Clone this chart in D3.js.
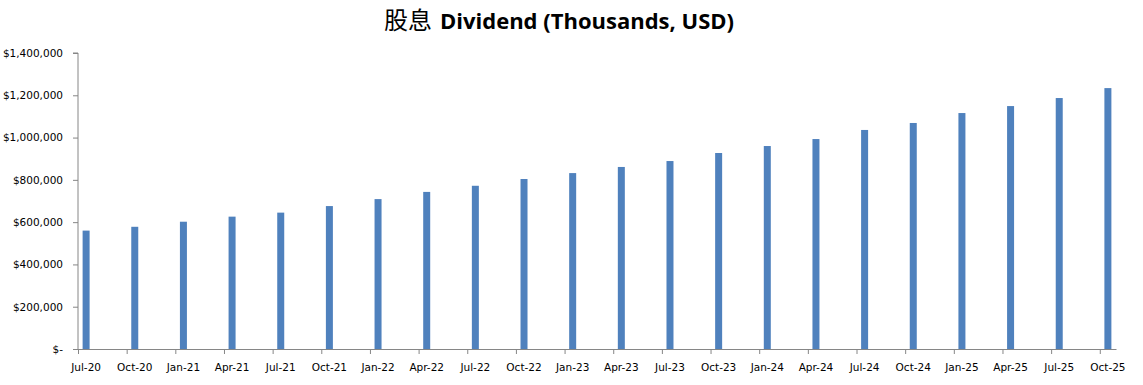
<!DOCTYPE html>
<html lang="zh">
<head>
    <meta charset="UTF-8">
    <title>Dividend</title>
    <script src="https://d3js.org/d3.v7.min.js"></script>
    <style>
        body { margin: 0; background: #fff; }
        .axis text { font-family: "DejaVu Sans", sans-serif; font-size: 10.5px; fill: #000; }
        .axis path, .axis line { stroke: #868686; }
    </style>
</head>
<body>
<svg height="385" width="1143"></svg>

<script>
    // quarterly dividend, thousands of USD
    const categories = ["Jul-20", "Oct-20", "Jan-21", "Apr-21", "Jul-21", "Oct-21", "Jan-22", "Apr-22",
        "Jul-22", "Oct-22", "Jan-23", "Apr-23", "Jul-23", "Oct-23", "Jan-24", "Apr-24",
        "Jul-24", "Oct-24", "Jan-25", "Apr-25", "Jul-25", "Oct-25"];
    const dividend = [560000, 578000, 602000, 626000, 645000, 676000, 709000, 743000,
        772000, 804000, 832000, 861000, 889000, 927000, 960000, 993000,
        1036000, 1069000, 1116000, 1149000, 1187000, 1234000];
    const yTicks = [0, 200000, 400000, 600000, 800000, 1000000, 1200000, 1400000];

    const svg = d3.select("svg");
    const margin = {left: 78, right: 27, top: 53, bottom: 36};
    const width = 1143, height = 385;

    const parse = d3.utcParse("%b-%y");
    const dates = categories.map(parse);
    const start = dates[0];
    const monthIdx = d => d3.utcMonth.count(start, d);
    const nMonths = monthIdx(dates[dates.length - 1]) + 1;

    // date axis with one slot per month
    const x = d3.scaleLinear().domain([0, nMonths]).range([margin.left, width - margin.right]);
    const y = d3.scaleLinear().domain([0, 1400000]).range([height - margin.bottom, margin.top]);

    const barW = 7;

    svg.selectAll("rect.bar")
        .data(dividend)
        .enter()
        .append("rect")
        .attr("class", "bar")
        .attr("x", (d, i) => x(monthIdx(dates[i]) + 0.5) - barW / 2)
        .attr("y", d => y(d))
        .attr("width", barW)
        .attr("height", d => y(0) - y(d))
        .style("fill", "#4F81BD");

    const fmt = d3.format(",");
    svg.append("g")
        .attr("class", "axis")
        .attr("transform", `translate(${margin.left},0)`)
        .call(d3.axisLeft(y).tickValues(yTicks).tickSize(5).tickPadding(10)
            .tickFormat(v => v === 0 ? "$-" : "$" + fmt(v)));

    const xAxis = svg.append("g")
        .attr("class", "axis")
        .attr("transform", `translate(0,${y(0)})`)
        .call(d3.axisBottom(x).tickValues(dates.map(monthIdx)).tickSize(5).tickSizeOuter(0).tickFormat(""));

    xAxis.selectAll("text.lbl")
        .data(categories)
        .enter()
        .append("text")
        .attr("class", "lbl")
        .attr("x", (d, i) => x(monthIdx(dates[i]) + 0.5))
        .attr("y", 22)
        .attr("text-anchor", "middle")
        .text(d => d);

    svg.select(".axis .domain").attr("d", `M-5,${y(1400000)}H0V${y(0)}`);

    const title = svg.append("text")
        .attr("x", 559)
        .attr("y", 29)
        .attr("text-anchor", "middle")
        .style("font-family", "'Open Sans', sans-serif")
        .style("font-size", "22px")
        .style("font-weight", "bold");
    title.append("tspan")
        .style("font-family", "'Noto Sans CJK SC', sans-serif")
        .style("font-weight", "normal")
        .style("font-size", "24px")
        .text("股息");
    title.append("tspan").attr("dx", 8).text("Dividend (Thousands, USD)");
</script>

</body>
</html>
